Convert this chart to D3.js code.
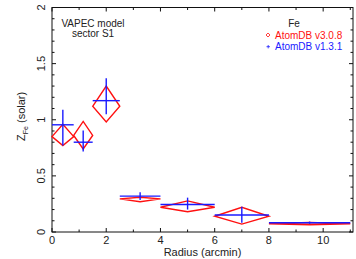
<!DOCTYPE html>
<html>
<head>
<meta charset="utf-8">
<script src="https://cdn.jsdelivr.net/npm/d3@7"></script>
<style>
  body { margin: 0; background: #fff; }
  text { font-family: "Liberation Sans", Arial, sans-serif; fill: #222; }
</style>
</head>
<body>
<svg id="chart"></svg>
<script>
// Bins in radius (arcmin)
const radius = [0.4, 1.15, 2.0, 3.25, 5.0, 7.0, 9.5];
const radiusLo = [0, 0.8, 1.5, 2.5, 4, 6, 8];
const radiusHi = [0.8, 1.5, 2.5, 4, 6, 8, 11];

// AtomDB v3.0.8 (red diamonds)
const feNew = [0.85, 0.86, 1.12, 0.295, 0.22, 0.14, 0.074];
const feNewLo = [0.77, 0.74, 0.98, 0.27, 0.18, 0.07, 0.064];
const feNewHi = [0.96, 0.985, 1.30, 0.31, 0.277, 0.22, 0.085];

// AtomDB v1.3.1 (blue crosses)
const feOld = [0.955, 0.80, 1.17, 0.32, 0.245, 0.152, 0.083];
const feOldLo = [0.77, 0.717, 1.05, 0.285, 0.20, 0.083, 0.073];
const feOldHi = [1.089, 0.905, 1.37, 0.354, 0.306, 0.225, 0.093];

const xTicks = [0, 2, 4, 6, 8, 10];
const yTicks = [0, 0.5, 1, 1.5, 2];
const legendLabels = ["AtomDB v3.0.8", "AtomDB v1.3.1"];

const width = 356, height = 259;
const margin = {top: 7.5, right: 3, bottom: 27, left: 52};

const svg = d3.select("#chart")
    .attr("width", width)
    .attr("height", height);

const x = d3.scaleLinear().domain([0, 11.1]).range([margin.left, width - margin.right]);
const y = d3.scaleLinear().domain([0, 2]).range([height - margin.bottom, margin.top]);

const red = "#ff1010", blue = "#1a1aff";

// Frame
svg.append("rect")
    .attr("x", x(0)).attr("y", y(2))
    .attr("width", x(11.1) - x(0)).attr("height", y(0) - y(2))
    .attr("fill", "none").attr("stroke", "#111").attr("stroke-width", 1);

// Ticks (inward on all four sides)
const xMinor = d3.range(0, 12, 1);
const yMinor = d3.range(0, 2.001, 0.1);
const tickG = svg.append("g").attr("stroke", "#111").attr("stroke-width", 1);
xMinor.forEach(v => {
  const len = v % 2 === 0 ? 4 : 2.5;
  tickG.append("line").attr("x1", x(v)).attr("x2", x(v)).attr("y1", y(0)).attr("y2", y(0) - len);
  tickG.append("line").attr("x1", x(v)).attr("x2", x(v)).attr("y1", y(2)).attr("y2", y(2) + len);
});
yMinor.forEach(v => {
  const len = Math.abs(v * 2 - Math.round(v * 2)) < 1e-6 ? 4 : 2.5;
  tickG.append("line").attr("y1", y(v)).attr("y2", y(v)).attr("x1", x(0)).attr("x2", x(0) + len);
  tickG.append("line").attr("y1", y(v)).attr("y2", y(v)).attr("x1", x(11.1)).attr("x2", x(11.1) - len);
});

// Tick labels
svg.append("g").selectAll("text")
  .data(xTicks)
  .join("text")
    .attr("x", d => x(d))
    .attr("y", y(0) + 12)
    .attr("text-anchor", "middle")
    .style("font-size", "11px")
    .text(d => d);

svg.append("g").selectAll("text")
  .data(yTicks)
  .join("text")
    .attr("transform", d => `translate(45,${y(d)}) rotate(-90)`)
    .attr("text-anchor", "middle")
    .style("font-size", "11px")
    .text(d => d);

// Axis titles
svg.append("text")
    .attr("x", (x(0) + x(11.1)) / 2)
    .attr("y", height - 3)
    .attr("text-anchor", "middle")
    .style("font-size", "11px")
    .text("Radius (arcmin)");

const yTitle = svg.append("text")
    .attr("transform", `translate(25,${y(1.03)}) rotate(-90)`)
    .attr("text-anchor", "middle")
    .style("font-size", "11px");
yTitle.append("tspan").text("Z");
yTitle.append("tspan").attr("dy", 3).style("font-size", "7px").text("Fe");
yTitle.append("tspan").attr("dy", -3).text(" (solar)");

// Data
const rows = radius.map((r, i) => ({
  r, lo: radiusLo[i], hi: radiusHi[i],
  a: feNew[i], aLo: feNewLo[i], aHi: feNewHi[i],
  b: feOld[i], bLo: feOldLo[i], bHi: feOldHi[i]
}));

// Red diamonds
svg.append("g").selectAll("path")
  .data(rows)
  .join("path")
    .attr("d", d => `M${x(d.lo)},${y(d.a)}L${x(d.r)},${y(d.aHi)}L${x(d.hi)},${y(d.a)}L${x(d.r)},${y(d.aLo)}Z`)
    .attr("fill", "none")
    .attr("stroke", red)
    .attr("stroke-width", 1.4);

// Blue crosses
const cross = svg.append("g").attr("stroke", blue).attr("stroke-width", 1.4);
cross.selectAll(".h")
  .data(rows)
  .join("line")
    .attr("class", "h")
    .attr("x1", d => x(d.lo)).attr("x2", d => x(d.hi))
    .attr("y1", d => y(d.b)).attr("y2", d => y(d.b));
cross.selectAll(".v")
  .data(rows)
  .join("line")
    .attr("class", "v")
    .attr("x1", d => x(d.r)).attr("x2", d => x(d.r))
    .attr("y1", d => y(d.bLo)).attr("y2", d => y(d.bHi));

// Annotation
svg.append("text").attr("x", 93).attr("y", 27).attr("text-anchor", "middle")
    .style("font-size", "10px").text("VAPEC model");
svg.append("text").attr("x", 93).attr("y", 37).attr("text-anchor", "middle")
    .style("font-size", "10px").text("sector S1");

// Legend
svg.append("text").attr("x", 294).attr("y", 27).attr("text-anchor", "middle")
    .style("font-size", "10px").text("Fe");
svg.append("path")
    .attr("d", "M266,35L268,33L270,35L268,37Z")
    .attr("fill", "none").attr("stroke", red).attr("stroke-width", 0.8);
svg.append("path")
    .attr("d", "M266.5,46.7H270M268.2,45V48.4")
    .attr("stroke", blue).attr("stroke-width", 0.8);
svg.append("text").attr("x", 275).attr("y", 38.5)
    .style("font-size", "10px").style("fill", red).text(legendLabels[0]);
svg.append("text").attr("x", 275).attr("y", 50.2)
    .style("font-size", "10px").style("fill", blue).text(legendLabels[1]);
</script>
</body>
</html>
